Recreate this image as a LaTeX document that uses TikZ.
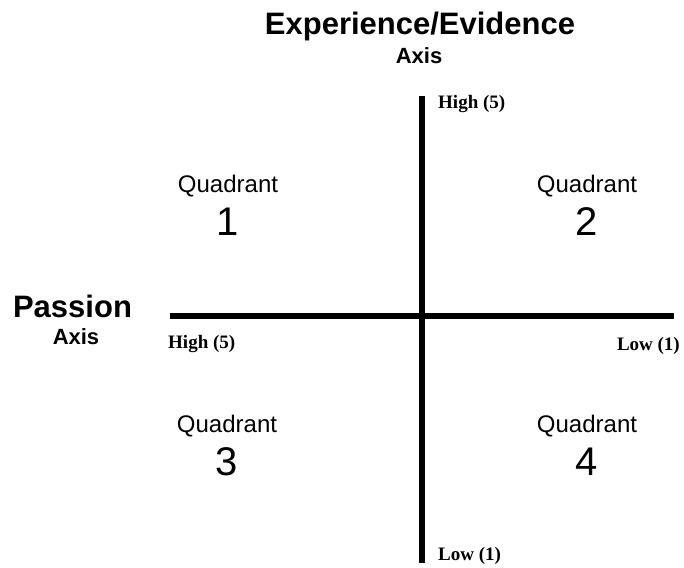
\documentclass[tikz,border=0pt]{standalone}
\usepackage{fontspec}
\setmainfont{Liberation Serif}
\newfontfamily\arialfont{Liberation Sans}
\begin{document}
\begin{tikzpicture}[x=1pt,y=-1pt,
  txt/.style={inner sep=0pt, anchor=base},
  bigtitle/.style={txt, font=\arialfont\bfseries\fontsize{31}{31}\selectfont},
  axisword/.style={txt, font=\arialfont\bfseries\fontsize{22}{22}\selectfont},
  quadword/.style={txt, font=\arialfont\fontsize{24}{24}\selectfont},
  quadnum/.style={txt, font=\arialfont\fontsize{40}{40}\selectfont},
  scalelbl/.style={txt, font=\bfseries\fontsize{19}{19}\selectfont},
  axisline/.style={line width=6pt, black}]
\useasboundingbox (0,0) rectangle (684,567);
% axis ends
\coordinate (vtop) at (421.5,96);
\coordinate (vbot) at (421.5,563);
\coordinate (hleft) at (170,316);
\coordinate (hright) at (674,316);
\draw[axisline] (vtop) -- (vbot);
\draw[axisline] (hleft) -- (hright);
% titles
\node[bigtitle] (ee) at (420,35) {Experience/Evidence};
\node[axisword] (eeaxis) at (419,64) {Axis};
\node[bigtitle] (pas) at (72.5,317) {Passion};
\node[axisword] (pasaxis) at (76,344) {Axis};
% scale labels
\node[scalelbl, anchor=base west] (vhigh) at (438,108) {High (5)};
\node[scalelbl, anchor=base west] (vlow) at (438,560) {Low (1)};
\node[scalelbl, anchor=base west] (hhigh) at (168,348) {High (5)};
\node[scalelbl, anchor=base east] (hlow) at (680,350) {Low (1)};
% quadrants
\node[quadword] (q1w) at (228,192) {Quadrant};
\node[quadnum] (q1n) at (228,235) {1};
\node[quadword] (q2w) at (587,192) {Quadrant};
\node[quadnum] (q2n) at (587,235) {2};
\node[quadword] (q3w) at (227,432) {Quadrant};
\node[quadnum] (q3n) at (227,475) {3};
\node[quadword] (q4w) at (587,432) {Quadrant};
\node[quadnum] (q4n) at (587,475) {4};
\end{tikzpicture}
\end{document}
